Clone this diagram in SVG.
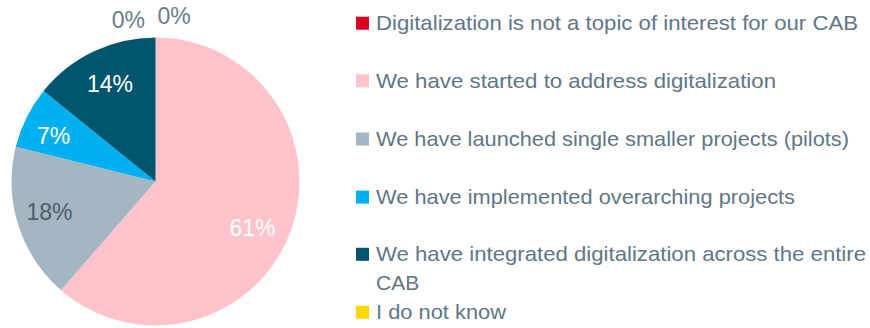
<svg xmlns="http://www.w3.org/2000/svg" width="870" height="328" viewBox="0 0 870 328">
<style>
.lg{font-family:"Liberation Sans",Arial,sans-serif;font-size:21px;fill:#5f7686}
.pl{font-family:"Liberation Sans",Arial,sans-serif;font-size:23px;text-anchor:middle}
</style>
<rect width="870" height="328" fill="#ffffff"/>
<g id="pie">
<path id="s-pink" d="M155.5,181.5 L155.5,37.5 A144,144 0 1 1 61,290.2 Z" fill="#fec3cb"/>
<path id="s-gray" d="M155.5,181.5 L61,290.2 A144,144 0 0 1 15.8,146.7 Z" fill="#a3b6c2"/>
<path id="s-cyan" d="M155.5,181.5 L15.8,146.7 A144,144 0 0 1 43.6,90.9 Z" fill="#00b0f0"/>
<path id="s-teal" d="M155.5,181.5 L43.6,90.9 A144,144 0 0 1 155.5,37.5 Z" fill="#00556e"/>
<text class="pl" x="128.3" y="28.3" fill="#6c7d88">0%</text>
<text class="pl" x="174" y="24.3" fill="#6c7d88">0%</text>
<text class="pl" x="110" y="92.3" fill="#ffffff">14%</text>
<text class="pl" x="53.7" y="144" fill="#ffffff">7%</text>
<text class="pl" x="49.5" y="220.3" fill="#4d5e68">18%</text>
<text class="pl" x="252.5" y="236" fill="#ffffff">61%</text>
</g>
<g id="legend">
<g id="l1"><rect x="356" y="16.7" width="13" height="13" fill="#d7001e"/><text class="lg" x="376" y="30" textLength="482" lengthAdjust="spacingAndGlyphs">Digitalization is not a topic of interest for our CAB</text></g>
<g id="l2"><rect x="356" y="74.3" width="13" height="13" fill="#fec3cb"/><text class="lg" x="376" y="88" textLength="400" lengthAdjust="spacingAndGlyphs">We have started to address digitalization</text></g>
<g id="l3"><rect x="356" y="132.5" width="13" height="13" fill="#a3b6c2"/><text class="lg" x="376" y="146" textLength="473" lengthAdjust="spacingAndGlyphs">We have launched single smaller projects (pilots)</text></g>
<g id="l4"><rect x="356" y="190.6" width="13" height="13" fill="#00b0f0"/><text class="lg" x="376" y="204" textLength="419" lengthAdjust="spacingAndGlyphs">We have implemented overarching projects</text></g>
<g id="l5"><rect x="356" y="247.8" width="13" height="13" fill="#00556e"/><text class="lg" x="376" y="261" textLength="490" lengthAdjust="spacingAndGlyphs">We have integrated digitalization across the entire</text><text class="lg" x="376" y="290">CAB</text></g>
<g id="l6"><rect x="356" y="305.8" width="13" height="13" fill="#ffd700"/><text class="lg" x="376" y="319" textLength="130" lengthAdjust="spacingAndGlyphs">I do not know</text></g>
</g>
</svg>
